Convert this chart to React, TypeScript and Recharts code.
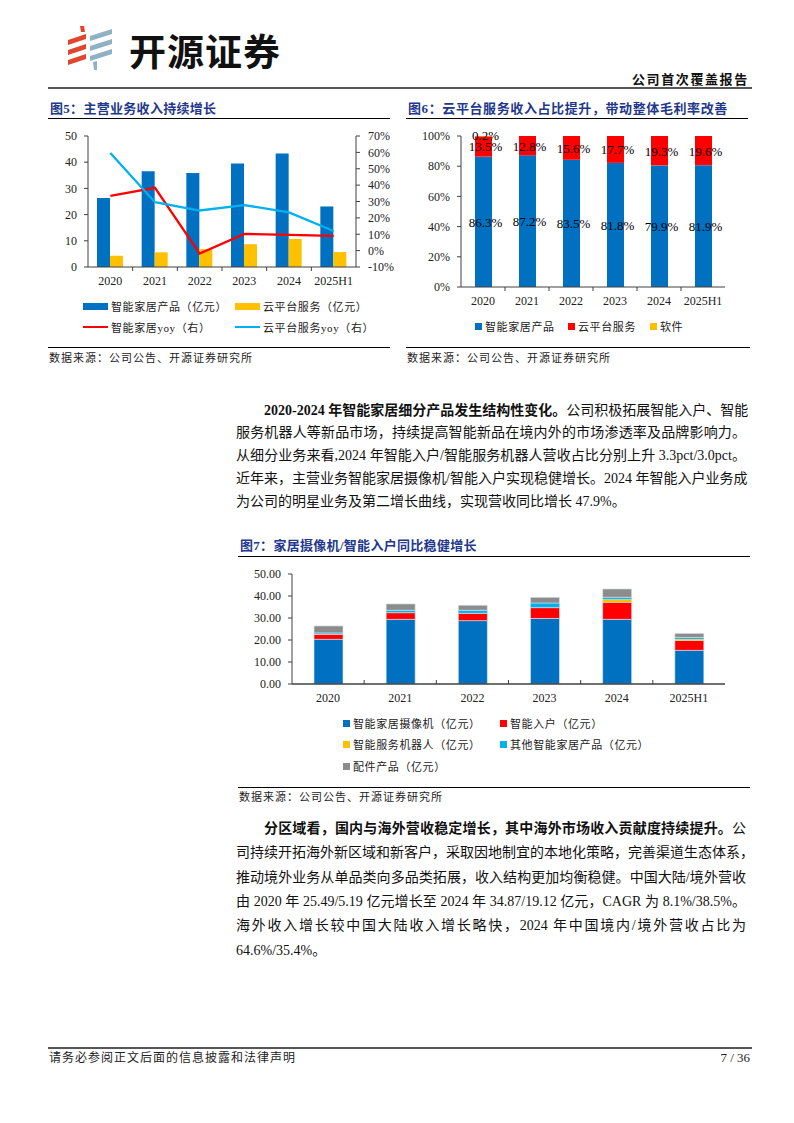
import React from "react";
import { ComposedChart, BarChart, Bar, Line, XAxis, YAxis, LabelList } from "recharts";

const SERIF = '"Liberation Serif", "Times New Roman", "Noto Sans CJK SC", serif';
const CJK = '"Liberation Serif", "Noto Sans CJK SC", sans-serif';

// 图5
const years = ["2020", "2021", "2022", "2023", "2024", "2025H1"];
const homeRevenue = [26.3, 36.5, 35.9, 39.5, 43.3, 23.1];
const cloudRevenue = [4.3, 5.6, 6.8, 8.7, 10.7, 5.7];
const homeYoy = [33.5, 38.4, -1.8, 10.2, 9.6, 9.0];
const cloudYoy = [59.6, 29.6, 24.5, 27.8, 23.3, 12.0];

// 图6
const homeShare = [86.3, 87.2, 83.5, 81.8, 79.9, 81.9];
const cloudShare = [13.5, 12.8, 15.6, 17.7, 19.3, 19.6];
const softwareShare = [0.2, 0, 0, 0, 0, 0];

// 图7
const camera = [20.3, 29.4, 28.8, 29.8, 29.4, 15.3];
const entry = [2.3, 3.0, 3.3, 4.9, 7.7, 4.5];
const robot = [0.1, 0.1, 0.1, 0.1, 1.4, 0.6];
const otherHome = [0.5, 1.0, 1.3, 2.0, 0.9, 0.8];
const accessory = [3.2, 2.9, 2.3, 2.6, 3.8, 1.8];

const fig5 = years.map((y, i) => ({ year: y, home: homeRevenue[i], cloud: cloudRevenue[i], homeYoy: homeYoy[i], cloudYoy: cloudYoy[i] }));
const fig6 = years.map((y, i) => ({ year: y, home: homeShare[i], cloud: cloudShare[i], soft: softwareShare[i] }));
const fig7 = years.map((y, i) => ({ year: y, camera: camera[i], entry: entry[i], robot: robot[i], other: otherHome[i], acc: accessory[i] }));

const BLUE = "#0070c0";
const RED = "#ff0000";
const YELLOW = "#ffc000";
const CYAN = "#00b0f0";
const GRAY = "#8c8c8c";
const NAVY = "#23388c";
const AXIS = "#404040";

const makeTick = (bw: number, up: boolean) => (props: any) => {
  const { x, y, payload, index } = props;
  const d = up ? -4 : 4;
  return (
    <g>
      {index > 0 && <line x1={x - bw / 2} x2={x - bw / 2} y1={y} y2={y + d} stroke={AXIS} />}
      <text x={x} y={y + 18} textAnchor="middle" fontSize={12} fontFamily={SERIF} fill="#222">
        {payload.value}
      </text>
    </g>
  );
};

const tickStyle = { fontSize: 12, fontFamily: SERIF, fill: "#222" };

const abs = (left: number, top: number, extra: React.CSSProperties = {}): React.CSSProperties => ({
  position: "absolute",
  left,
  top,
  ...extra,
});

const HLine = ({ x1, x2, y, color = "#000", w = 1 }: { x1: number; x2: number; y: number; color?: string; w?: number }) => (
  <div style={abs(x1, y - w / 2, { width: x2 - x1, height: w, background: color })} />
);

const Title = ({ x, y, text, spacing = 0.3 }: { x: number; y: number; text: string; spacing?: number }) => (
  <div style={abs(x, y - 9, { fontSize: 13, fontWeight: 700, color: NAVY, fontFamily: CJK, letterSpacing: spacing, lineHeight: "18px", whiteSpace: "nowrap" })}>
    {text}
  </div>
);

const Source = ({ x, y }: { x: number; y: number }) => (
  <div style={abs(x, y - 8, { fontSize: 11, color: "#222", fontFamily: CJK, letterSpacing: 1, lineHeight: "16px", whiteSpace: "nowrap" })}>
    数据来源：公司公告、开源证券研究所
  </div>
);

const LegendItem = ({ x, y, color, text, kind }: { x: number; y: number; color: string; text: string; kind: "wide" | "line" | "sq" }) => (
  <div style={abs(x, y - 8, { display: "flex", alignItems: "center", height: 16, whiteSpace: "nowrap" })}>
    {kind === "wide" && <span style={{ width: 25, height: 7, background: color, marginRight: 3 }} />}
    {kind === "line" && <span style={{ width: 25, height: 2, background: color, marginRight: 3 }} />}
    {kind === "sq" && <span style={{ width: 7, height: 7, background: color, marginRight: 3 }} />}
    <span style={{ fontSize: 11, fontFamily: CJK, color: "#222", letterSpacing: 0.6 }}>{text}</span>
  </div>
);

const Para = ({ x, y, width, lines, lh }: { x: number; y: number; width: number; lines: { indent?: number; bold?: string; text: string; last?: boolean }[]; lh: number }) => (
  <div style={abs(x, y, { width, fontSize: 14, fontFamily: CJK, color: "#111" })}>
    {lines.map((l, i) => (
      <div
        key={i}
        style={{
          height: lh,
          lineHeight: `${lh}px`,
          paddingLeft: l.indent || 0,
          textAlign: "justify",
          textAlignLast: l.last ? "left" : "justify",
          whiteSpace: "nowrap",
          overflow: "visible",
        }}
      >
        {l.bold && <b>{l.bold}</b>}
        {l.text}
      </div>
    ))}
  </div>
);

const Logo = () => (
  <svg style={abs(66, 26)} width={50} height={46} viewBox="0 0 50 46">
    <polygon points="14,0 18,0 19,6 15,6" fill="#e0452e" />
    <polygon points="2,14 20,8 20,13 2,19" fill="#e0452e" />
    <polygon points="2,24 20,18 20,23 2,29" fill="#e0452e" />
    <polygon points="2,34 20,28 20,33 2,39" fill="#e0452e" />
    <polygon points="24,10 46,3 46,8 24,15" fill="#8fb1c6" />
    <polygon points="24,20 46,13 46,18 24,25" fill="#8fb1c6" />
    <polygon points="24,30 46,23 46,28 24,35" fill="#8fb1c6" />
    <polygon points="27,36 31,35 31,44 28,44" fill="#8fb1c6" />
  </svg>
);

const para1 = [
  { indent: 28, bold: "2020-2024 年智能家居细分产品发生结构性变化。", text: "公司积极拓展智能入户、智能" },
  { text: "服务机器人等新品市场，持续提高智能新品在境内外的市场渗透率及品牌影响力。" },
  { text: "从细分业务来看,2024 年智能入户/智能服务机器人营收占比分别上升 3.3pct/3.0pct。" },
  { text: "近年来，主营业务智能家居摄像机/智能入户实现稳健增长。2024 年智能入户业务成" },
  { text: "为公司的明星业务及第二增长曲线，实现营收同比增长 47.9%。", last: true },
];

const para2 = [
  { indent: 28, bold: "分区域看，国内与海外营收稳定增长，其中海外市场收入贡献度持续提升。", text: "公" },
  { text: "司持续开拓海外新区域和新客户，采取因地制宜的本地化策略，完善渠道生态体系，" },
  { text: "推动境外业务从单品类向多品类拓展，收入结构更加均衡稳健。中国大陆/境外营收" },
  { text: "由 2020 年 25.49/5.19 亿元增长至 2024 年 34.87/19.12 亿元，CAGR 为 8.1%/38.5%。" },
  { text: "海外收入增长较中国大陆收入增长略快，2024 年中国境内/境外营收占比为" },
  { text: "64.6%/35.4%。", last: true },
];

const shareLabel = (vals: number[], dy = 5) => (p: any) => {
  const v = vals[p.index];
  if (!v) return null;
  return (
    <text x={p.x + p.width / 2 + 2} y={p.y + p.height / 2 + dy} textAnchor="middle" fontSize={13} fontFamily={SERIF} fill="#000">
      {v.toFixed(1)}%
    </text>
  );
};

export default function App() {
  return (
    <div style={abs(0, 0, { width: 794, height: 1123, background: "#fff", overflow: "hidden", fontFamily: CJK })}>
      {/* header */}
      <Logo />
      <div style={abs(129, 26, { fontSize: 37, fontWeight: 700, fontFamily: '"Noto Sans CJK SC", sans-serif', color: "#111", lineHeight: "48px", letterSpacing: 1 })}>
        开源证券
      </div>
      <div style={abs(632, 72, { fontSize: 13, fontWeight: 700, fontFamily: CJK, color: "#111", letterSpacing: 1.6, lineHeight: "16px" })}>
        公司首次覆盖报告
      </div>
      <HLine x1={48} x2={752} y={88} color="#555" w={2} />

      {/* 图5 */}
      <Title x={50} y={109} text="图5：主营业务收入持续增长" />
      <HLine x1={48} x2={390} y={118} />
      <div style={abs(40, 125)}>
        <ComposedChart width={360} height={220} data={fig5} margin={{ top: 11, right: 0, bottom: 0, left: 0 }} barGap={0} barSize={13}>
          <XAxis dataKey="year" height={78} tickSize={0} tickMargin={0} tickLine={false} stroke={AXIS} tick={makeTick(44.67, false)} interval={0} />
          <YAxis yAxisId="left" width={48} domain={[0, 50]} ticks={[0, 10, 20, 30, 40, 50]} interval={0} tickSize={4} tickMargin={7} stroke={AXIS} tick={tickStyle} />
          <YAxis
            yAxisId="right"
            orientation="right"
            width={44}
            domain={[-10, 70]}
            ticks={[-10, 0, 10, 20, 30, 40, 50, 60, 70]}
            interval={0}
            tickFormatter={(v: number) => `${v}%`}
            tickSize={4}
            tickMargin={8}
            stroke={AXIS}
            tick={tickStyle}
          />
          <Bar yAxisId="left" dataKey="home" fill={BLUE} isAnimationActive={false} />
          <Bar yAxisId="left" dataKey="cloud" fill={YELLOW} isAnimationActive={false} />
          <Line yAxisId="right" dataKey="homeYoy" stroke={RED} strokeWidth={2.3} dot={false} type="linear" isAnimationActive={false} />
          <Line yAxisId="right" dataKey="cloudYoy" stroke={CYAN} strokeWidth={2.3} dot={false} type="linear" isAnimationActive={false} />
        </ComposedChart>
      </div>
      <LegendItem x={83} y={306} color={BLUE} kind="wide" text="智能家居产品（亿元）" />
      <LegendItem x={235} y={306} color={YELLOW} kind="wide" text="云平台服务（亿元）" />
      <LegendItem x={83} y={327} color={RED} kind="line" text="智能家居yoy（右）" />
      <LegendItem x={235} y={327} color={CYAN} kind="line" text="云平台服务yoy（右）" />
      <HLine x1={48} x2={390} y={347} />
      <Source x={49} y={358} />

      {/* 图6 */}
      <Title x={408} y={109} text="图6：云平台服务收入占比提升，带动整体毛利率改善" spacing={0.6} />
      <HLine x1={406} x2={748} y={118} />
      <div style={abs(405, 125)}>
        <BarChart width={330} height={220} data={fig6} stackOffset="expand" margin={{ top: 11, right: 10, bottom: 0, left: 0 }} barSize={17}>
          <XAxis dataKey="year" height={58} tickSize={0} tickMargin={0} tickLine={false} stroke={AXIS} tick={makeTick(44, false)} interval={0} />
          <YAxis
            width={56}
            domain={[0, 1]}
            ticks={[0, 0.2, 0.4, 0.6, 0.8, 1]}
            interval={0}
            tickFormatter={(v: number) => `${Math.round(v * 100)}%`}
            tickSize={4}
            tickMargin={7}
            stroke={AXIS}
            tick={tickStyle}
          />
          <Bar dataKey="home" stackId="s" fill={BLUE} isAnimationActive={false}>
            <LabelList content={shareLabel(homeShare)} />
          </Bar>
          <Bar dataKey="cloud" stackId="s" fill={RED} isAnimationActive={false}>
            <LabelList content={shareLabel(cloudShare)} />
          </Bar>
          <Bar dataKey="soft" stackId="s" fill={YELLOW} isAnimationActive={false}>
            <LabelList content={shareLabel(softwareShare, 4)} />
          </Bar>
        </BarChart>
      </div>
      <LegendItem x={475} y={326} color={BLUE} kind="sq" text="智能家居产品" />
      <LegendItem x={568} y={326} color={RED} kind="sq" text="云平台服务" />
      <LegendItem x={650} y={326} color={YELLOW} kind="sq" text="软件" />
      <HLine x1={406} x2={750} y={347} />
      <Source x={407} y={358} />

      {/* 正文 1 */}
      <Para x={236} y={399.6} width={510} lh={22.8} lines={para1} />

      {/* 图7 */}
      <Title x={240} y={546} text="图7：家居摄像机/智能入户同比稳健增长" />
      <HLine x1={238} x2={750} y={556} />
      <div style={abs(230, 563)}>
        <BarChart width={505} height={151} data={fig7} margin={{ top: 11, right: 10, bottom: 0, left: 0 }} barSize={29}>
          <XAxis dataKey="year" height={30} tickSize={0} tickMargin={0} tickLine={false} stroke={AXIS} strokeWidth={1.5} tick={makeTick(72.17, true)} interval={0} />
          <YAxis
            width={62}
            domain={[0, 50]}
            ticks={[0, 10, 20, 30, 40, 50]}
            interval={0}
            tickFormatter={(v: number) => v.toFixed(2)}
            tickSize={4}
            tickMargin={7}
            stroke={AXIS}
            tick={tickStyle}
          />
          <Bar dataKey="camera" stackId="a" fill={BLUE} stroke="#dfe9f4" strokeWidth={0.6} isAnimationActive={false} />
          <Bar dataKey="entry" stackId="a" fill={RED} stroke="#dfe9f4" strokeWidth={0.6} isAnimationActive={false} />
          <Bar dataKey="robot" stackId="a" fill={YELLOW} stroke="#dfe9f4" strokeWidth={0.3} isAnimationActive={false} />
          <Bar dataKey="other" stackId="a" fill={CYAN} stroke="#dfe9f4" strokeWidth={0.3} isAnimationActive={false} />
          <Bar dataKey="acc" stackId="a" fill={GRAY} stroke="#dfe9f4" strokeWidth={0.6} isAnimationActive={false} />
        </BarChart>
      </div>
      <LegendItem x={343} y={723} color={BLUE} kind="sq" text="智能家居摄像机（亿元）" />
      <LegendItem x={500} y={723} color={RED} kind="sq" text="智能入户（亿元）" />
      <LegendItem x={343} y={744} color={YELLOW} kind="sq" text="智能服务机器人（亿元）" />
      <LegendItem x={500} y={744} color={CYAN} kind="sq" text="其他智能家居产品（亿元）" />
      <LegendItem x={343} y={766} color={GRAY} kind="sq" text="配件产品（亿元）" />
      <HLine x1={238} x2={750} y={787} />
      <Source x={239} y={797} />

      {/* 正文 2 */}
      <Para x={236} y={816.8} width={510} lh={24.4} lines={para2} />

      {/* footer */}
      <HLine x1={48} x2={752} y={1048} color="#555" w={1.5} />
      <div style={abs(49, 1050, { fontSize: 12, fontFamily: CJK, color: "#222", letterSpacing: 1, lineHeight: "16px" })}>
        请务必参阅正文后面的信息披露和法律声明
      </div>
      <div style={abs(700, 1050, { width: 50, textAlign: "right", fontSize: 13, fontFamily: SERIF, color: "#222", lineHeight: "16px" })}>
        7 / 36
      </div>
    </div>
  );
}
